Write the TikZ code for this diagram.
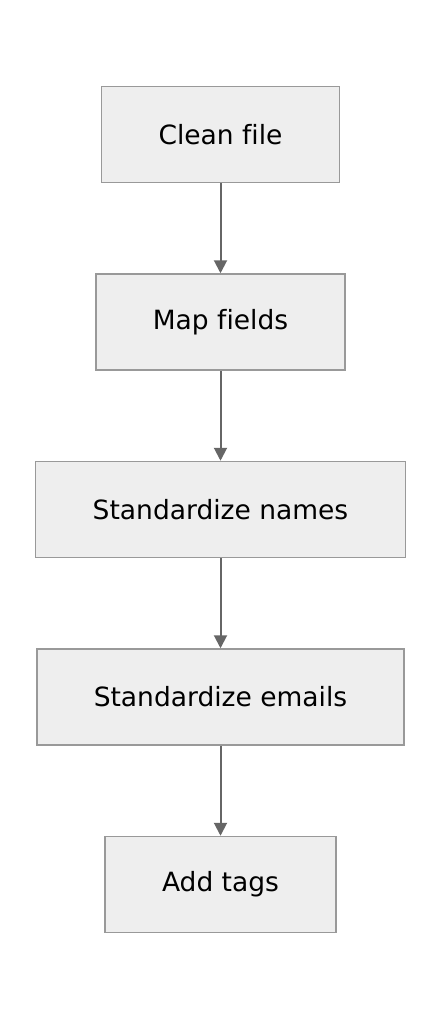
\documentclass[tikz,border=0pt]{standalone}
\usepackage{fontspec}
\setmainfont[Ligatures=NoCommon]{DejaVu Sans}
\usetikzlibrary{positioning, arrows.meta}
\definecolor{boxfill}{HTML}{EEEEEE}
\definecolor{boxline}{HTML}{999999}
\definecolor{arrowline}{HTML}{666666}
\begin{document}
\begin{tikzpicture}[x=1pt, y=1pt, node distance=90pt,
    stepbox/.style={rectangle, draw=boxline, fill=boxfill, line width=1.5pt, minimum height=96pt, inner xsep=57pt, font=\fontsize{26.5}{30}\selectfont},
    flow/.style={draw=arrowline, line width=2pt, -{Triangle[length=13pt, width=13pt]}}]
                \useasboundingbox (0,0) rectangle (442,-1020);
                \node[stepbox] (clean) at (220.5,-134.5) {Clean file};
                \node[stepbox, below=of clean] (map) {Map fields};
                \node[stepbox, below=of map] (names) {Standardize names};
                \node[stepbox, below=of names] (emails) {Standardize emails};
                \node[stepbox, below=of emails] (tags) {Add tags};
                \draw[flow] (clean) -- (map);
                \draw[flow] (map) -- (names);
                \draw[flow] (names) -- (emails);
                \draw[flow] (emails) -- (tags);
                \end{tikzpicture}
\end{document}
